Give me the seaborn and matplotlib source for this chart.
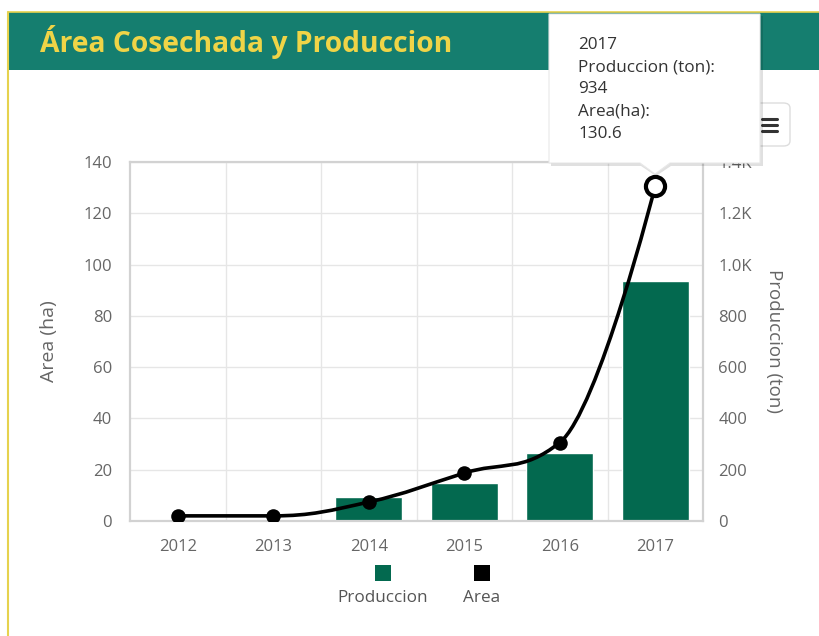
import numpy as np
import pandas as pd
import matplotlib
matplotlib.use("Agg")
import matplotlib.pyplot as plt
from matplotlib.path import Path
from matplotlib.patches import PathPatch, Rectangle, FancyBboxPatch, Polygon
from matplotlib.ticker import FuncFormatter, MultipleLocator, FixedLocator
import seaborn as sns

# ---- data ----
years = ["2012", "2013", "2014", "2015", "2016", "2017"]
produccion = [4, 9, 93, 150, 265, 934]        # ton
area = [2.0, 2.0, 7.4, 18.7, 30.6, 130.6]     # ha
hover_index = 5

title = "Área Cosechada y Produccion"
tooltip_lines = [years[hover_index],
                 "Produccion (ton):", f"{produccion[hover_index]}",
                 "Area(ha):", f"{area[hover_index]}"]

# ---- style ----
sns.set_theme(style="white")
plt.rcParams["font.family"] = ["Open Sans", "DejaVu Sans"]

BAR = "#03694F"
HEADER = "#157E6F"
TITLE_C = "#EFD447"
BORDER_Y = "#E6D24E"
GRID = "#E6E6E6"
AXIS = "#D2D2D2"
LABEL = "#666666"
TICK_FS = 12

W, H = 819, 636
fig = plt.figure(figsize=(W / 100, H / 100), dpi=100)


def fx(px):
    return px / W


def fy(py):
    return 1 - py / H


# plot area box (pixels: left 130, right 703, top 162, bottom 521)
L, R, T, B = 130, 703, 162, 521
ax = fig.add_axes([fx(L), fy(B), fx(R - L), (B - T) / H])
ax2 = ax.twinx()

df = pd.DataFrame({"year": years, "produccion": produccion, "area": area})

# bars: production, on the right-hand scale
sns.barplot(data=df, x="year", y="produccion", color=BAR, saturation=1,
            width=0.7, ax=ax, zorder=2)
ax.set_ylim(0, 1400)
ax.set_xlim(-0.5, len(years) - 0.5)
ax.yaxis.tick_right()
ax.yaxis.set_label_position("right")
ax.yaxis.set_major_locator(MultipleLocator(200))
ax.yaxis.set_major_formatter(FuncFormatter(
    lambda v, p: f"{v/1000:.1f}K" if v >= 1000 else f"{int(v)}"))
ax.set_ylabel("Produccion (ton)", rotation=270, color=LABEL, fontsize=13.5)
ax.yaxis.set_label_coords((783 - L) / (R - L), 0.5)
ax.set_xlabel("")
ax.set_axisbelow(True)
ax.grid(axis="y", color=GRID, linewidth=1)
ax.xaxis.set_minor_locator(FixedLocator(np.arange(0.5, len(years) - 1, 1.0)))
ax.grid(axis="x", which="minor", color=GRID, linewidth=1)
ax.tick_params(axis="y", length=0, pad=11, labelsize=TICK_FS, labelcolor=LABEL)
ax.tick_params(axis="x", which="both", length=0, pad=13, labelsize=TICK_FS,
               labelcolor=LABEL)
for s in ax.spines.values():
    s.set_color(AXIS)
    s.set_linewidth(1.6)

# line: harvested area, on the left-hand scale (drawn above the bars)
xs = np.arange(len(years), dtype=float)
ys = np.array(area, dtype=float)


def spline_path(x, y, smoothing=1.5):
    denom = smoothing + 1
    n = len(x)
    lc = [None] * n
    rc = [None] * n
    for i in range(1, n - 1):
        lx = (smoothing * x[i] + x[i - 1]) / denom
        ly = (smoothing * y[i] + y[i - 1]) / denom
        rx = (smoothing * x[i] + x[i + 1]) / denom
        ry = (smoothing * y[i] + y[i + 1]) / denom
        if rx != lx:
            corr = (ry - ly) * (rx - x[i]) / (rx - lx) + y[i] - ry
            ly += corr
            ry += corr
            if ly > y[i - 1] and ly > y[i]:
                ly = max(y[i - 1], y[i]); ry = 2 * y[i] - ly
            elif ly < y[i - 1] and ly < y[i]:
                ly = min(y[i - 1], y[i]); ry = 2 * y[i] - ly
            if ry > y[i + 1] and ry > y[i]:
                ry = max(y[i + 1], y[i]); ly = 2 * y[i] - ry
            elif ry < y[i + 1] and ry < y[i]:
                ry = min(y[i + 1], y[i]); ly = 2 * y[i] - ry
        lc[i] = (lx, ly)
        rc[i] = (rx, ry)
    verts = [(x[0], y[0])]
    codes = [Path.MOVETO]
    for i in range(1, n):
        c1 = rc[i - 1] if rc[i - 1] is not None else (x[i - 1], y[i - 1])
        c2 = lc[i] if lc[i] is not None else (x[i], y[i])
        verts += [c1, c2, (x[i], y[i])]
        codes += [Path.CURVE4] * 3
    return Path(verts, codes)


ax2.add_patch(PathPatch(spline_path(xs, ys), facecolor="none",
                        edgecolor="black", linewidth=2.6, zorder=3,
                        capstyle="round", joinstyle="round"))
normal = df.index != hover_index
sns.scatterplot(x=xs[normal], y=ys[normal], color="black", s=110,
                edgecolor="black", linewidth=0, ax=ax2, zorder=4)
sns.scatterplot(x=xs[~normal], y=ys[~normal], color="white", s=190,
                edgecolor="black", linewidth=3, ax=ax2, zorder=5,
                clip_on=False)
ax2.set_ylim(0, 140)
ax2.set_xlim(-0.5, len(years) - 0.5)
ax2.yaxis.tick_left()
ax2.yaxis.set_label_position("left")
ax2.yaxis.set_major_locator(MultipleLocator(20))
ax2.set_ylabel("Area (ha)", color=LABEL, fontsize=14)
ax2.yaxis.set_label_coords((58 - L) / (R - L), 0.5)
ax2.tick_params(axis="y", length=0, pad=13, labelsize=TICK_FS, labelcolor=LABEL)
ax2.grid(False)
for s in ax2.spines.values():
    s.set_visible(False)

# ---- card header ----
fig.add_artist(Rectangle((fx(8), fy(70)), 1 - fx(8), (70 - 12) / H,
                         transform=fig.transFigure, facecolor=HEADER,
                         edgecolor="none", zorder=1))
fig.add_artist(plt.Line2D([fx(8), 1], [fy(12), fy(12)], color=BORDER_Y,
                          linewidth=1.2, transform=fig.transFigure, zorder=2))
fig.add_artist(plt.Line2D([fx(8), fx(8)], [fy(12), 0], color=BORDER_Y,
                          linewidth=1.5, transform=fig.transFigure, zorder=2))
fig.text(fx(40), fy(42), title, color=TITLE_C, fontsize=20.3,
         fontweight="bold", va="center", ha="left", zorder=3)

# ---- export menu button ----
fig.add_artist(FancyBboxPatch((fx(736), fy(146)), fx(790 - 736),
                              (146 - 103) / H,
                              boxstyle="round,pad=0,rounding_size=0.008",
                              transform=fig.transFigure, facecolor="white",
                              edgecolor="#DDDDDD", linewidth=1, zorder=6))
for py in (119, 125, 131):
    fig.add_artist(plt.Line2D([fx(762), fx(777)], [fy(py), fy(py)],
                              color="#333333", linewidth=2.2,
                              transform=fig.transFigure, zorder=7))

# ---- legend ----
for cx, col, lab in ((383, BAR, "Produccion"), (482, "black", "Area")):
    fig.add_artist(Rectangle((fx(cx - 8), fy(581)), fx(16), 16 / H,
                             transform=fig.transFigure, facecolor=col,
                             edgecolor="none", zorder=6))
    fig.text(fx(cx), fy(598), lab, color="#555555", fontsize=12.3,
             ha="center", va="center", zorder=6)

# ---- tooltip ----
tx0, tx1, ty0, ty1 = 549, 760, 14, 163
px_tip = 655
shadow = Polygon([(fx(tx0 + 2), fy(ty0 + 2)), (fx(tx1 + 3), fy(ty0 + 2)),
                  (fx(tx1 + 3), fy(ty1 + 3)), (fx(px_tip + 16), fy(ty1 + 3)),
                  (fx(px_tip + 1), fy(ty1 + 13)), (fx(px_tip - 14), fy(ty1 + 3)),
                  (fx(tx0 + 2), fy(ty1 + 3))],
                 closed=True, transform=fig.transFigure, facecolor="#000000",
                 alpha=0.12, edgecolor="none", zorder=8)
fig.add_artist(shadow)
tip = Polygon([(fx(tx0), fy(ty0)), (fx(tx1), fy(ty0)), (fx(tx1), fy(ty1)),
               (fx(px_tip + 15), fy(ty1)), (fx(px_tip), fy(ty1 + 11)),
               (fx(px_tip - 15), fy(ty1)), (fx(tx0), fy(ty1))],
              closed=True, transform=fig.transFigure, facecolor="white",
              edgecolor="#E8E8E8", linewidth=0.8, zorder=9)
fig.add_artist(tip)
for line, py in zip(tooltip_lines, (45, 67, 89, 112, 134)):
    fig.text(fx(578), fy(py), line, color="#333333", fontsize=12.3,
             ha="left", va="center", zorder=10)

fig.savefig("out.png", dpi=100)
